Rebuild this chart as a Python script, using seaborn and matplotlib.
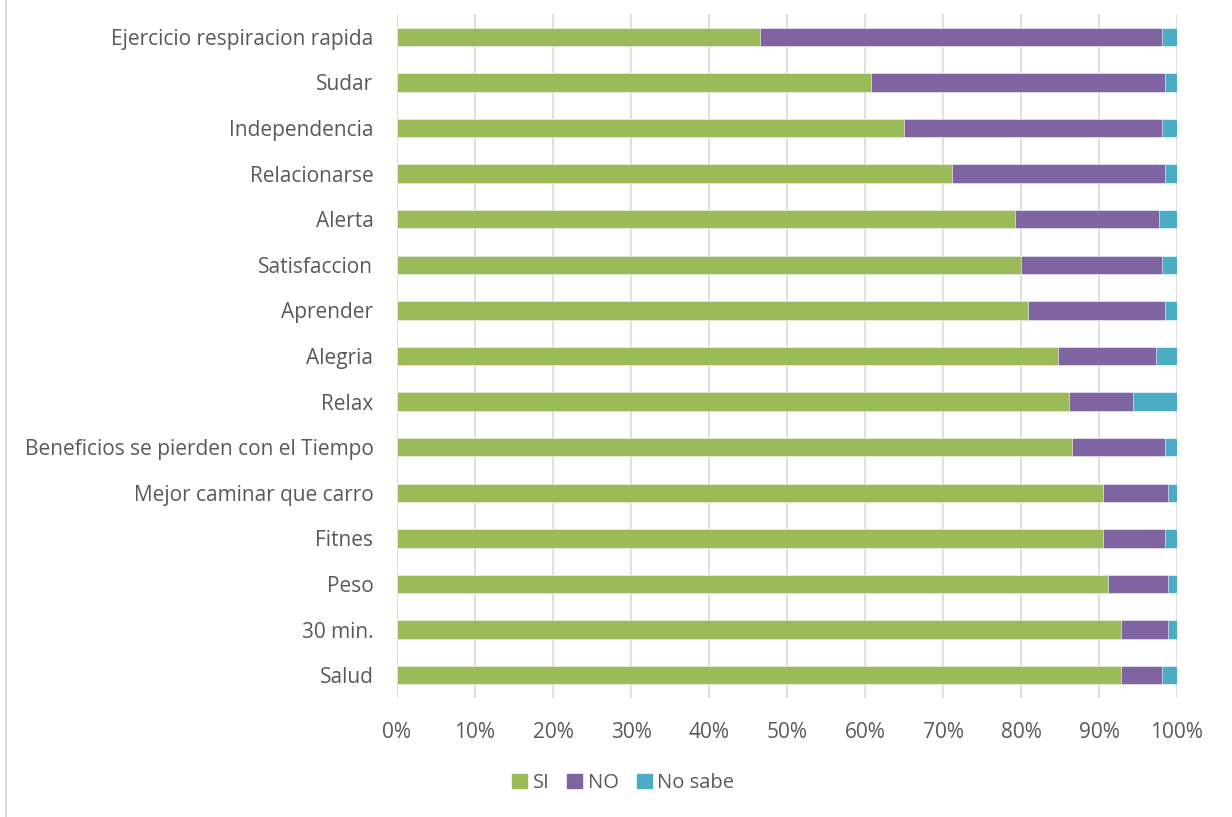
import pandas as pd
import matplotlib.pyplot as plt
import matplotlib.lines as mlines
import matplotlib.patches as mpatches
from matplotlib.ticker import PercentFormatter
import seaborn as sns

# Values (percent of answers)
categories = ['Ejercicio respiracion rapida', 'Sudar', 'Independencia', 'Relacionarse',
              'Alerta', 'Satisfaccion', 'Aprender', 'Alegria', 'Relax',
              'Beneficios se pierden con el Tiempo', 'Mejor caminar que carro',
              'Fitnes', 'Peso', '30 min.', 'Salud']
si = [46.5, 60.8, 65.0, 71.2, 79.2, 80.0, 80.9, 84.7, 86.2, 86.6, 90.5, 90.5, 91.2, 92.8, 92.8]
no = [51.6, 37.7, 33.1, 27.3, 18.5, 18.1, 17.6, 12.6, 8.1, 11.9, 8.4, 8.0, 7.7, 6.1, 5.3]
no_sabe = [1.9, 1.5, 1.9, 1.5, 2.3, 1.9, 1.5, 2.7, 5.7, 1.5, 1.1, 1.5, 1.1, 1.1, 1.9]

series_names = ['SI', 'NO', 'No sabe']
colors = ['#9BBB59', '#8064A2', '#4BACC6']

df = pd.DataFrame({'cat': categories, 'SI': si, 'NO': no, 'No sabe': no_sabe})
df['c_si'] = df['SI']
df['c_no'] = df['SI'] + df['NO']
df['c_ns'] = df['c_no'] + df['No sabe']

sns.set_style('white')
plt.rcParams['font.family'] = ['Open Sans', 'DejaVu Sans']
text_color = '#595959'

fig = plt.figure(figsize=(12.32, 8.17), dpi=100)
ax = fig.add_axes([397 / 1232, 1 - 698 / 817, 780 / 1232, 684 / 817])

# stacked bars drawn as cumulative layers, back to front
for col, color in zip(['c_ns', 'c_no', 'c_si'], colors[::-1]):
    sns.barplot(data=df, x=col, y='cat', order=categories, color=color,
                orient='h', width=0.4, ax=ax, saturation=1,
                edgecolor='white', linewidth=0.4)

ax.set_xlim(0, 100)
ax.set_ylim(14.5, -0.5)
ax.set_xticks(range(0, 101, 10))
ax.xaxis.set_major_formatter(PercentFormatter(decimals=0))
ax.set_xlabel('')
ax.set_ylabel('')
ax.set_axisbelow(True)
ax.grid(axis='x', color='#d9d9d9', linewidth=1.2)
ax.grid(axis='y', visible=False)
for s in ax.spines.values():
    s.set_visible(False)
ax.tick_params(axis='x', length=0, pad=17, labelsize=15, labelcolor=text_color)
ax.tick_params(axis='y', length=0, pad=17, labelsize=15, labelcolor=text_color)

handles = [mpatches.Patch(color=c, label=n) for c, n in zip(colors, series_names)]
fig.legend(handles=handles, loc='center', bbox_to_anchor=(623 / 1232, 1 - 783 / 817),
           ncol=3, frameon=False, fontsize=14.5, labelcolor=text_color,
           handlelength=0.75, handleheight=0.75, handletextpad=0.25, columnspacing=0.9)

# chart area border on the left
fig.add_artist(mlines.Line2D([6 / 1232, 6 / 1232], [0, 1], color='#d9d9d9', linewidth=1.3))

fig.savefig('out.png', dpi=100)
